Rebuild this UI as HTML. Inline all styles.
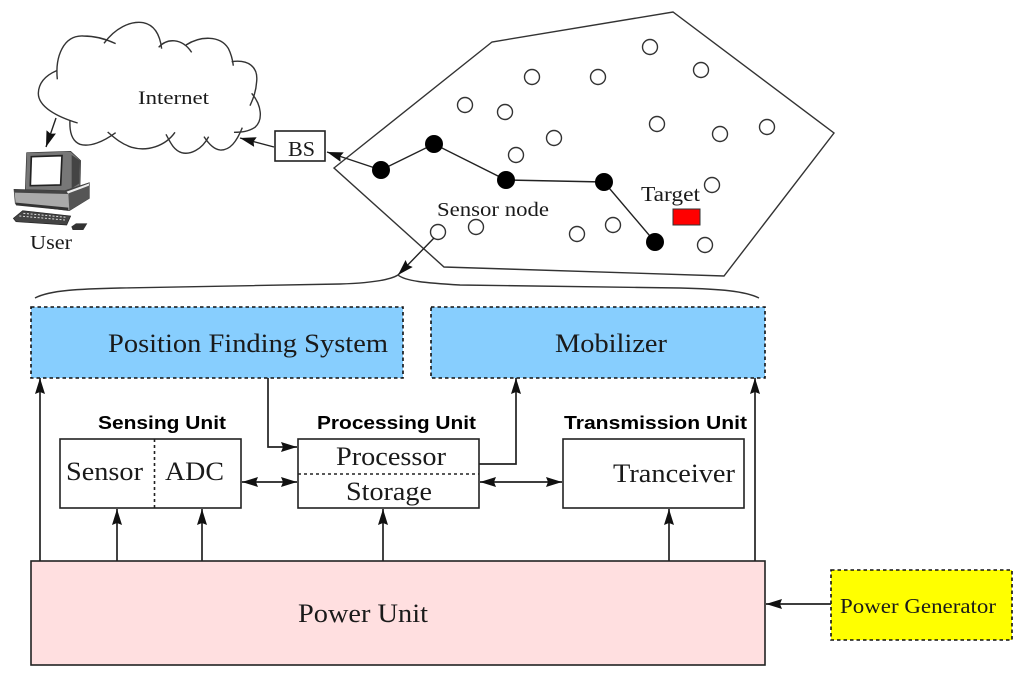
<!DOCTYPE html>
<html><head><meta charset="utf-8"><style>
html,body{margin:0;padding:0;background:#fff}
svg{display:block;filter:blur(0.35px)}
text{font-family:"Liberation Serif",serif;fill:#1a1a1a}
.b{font-family:"Liberation Sans",sans-serif;font-weight:bold;fill:#000}
</style></head><body>
<svg width="1024" height="678" viewBox="0 0 1024 678" xmlns="http://www.w3.org/2000/svg">
<defs>
<marker id="a" markerUnits="userSpaceOnUse" markerWidth="18" markerHeight="12" refX="16" refY="5" orient="auto"><path d="M0 0L16 5L0 10L2 5Z" fill="#111"/></marker>
<marker id="s" markerUnits="userSpaceOnUse" markerWidth="18" markerHeight="12" refX="0" refY="5" orient="auto"><path d="M16 0L0 5L16 10L14 5Z" fill="#111"/></marker>
</defs>
<rect width="1024" height="678" fill="#fff"/>

<!-- cloud -->
<g transform="scale(0.3333)" fill="none" stroke="#333" stroke-width="4.2">
<path d="M172 238C165 170 190 105 250 108C285 108 320 118 347 131"/>
<path d="M312 130C345 85 390 62 430 68C465 75 480 105 485 146"/>
<path d="M476 142C500 115 545 112 575 157"/>
<path d="M558 135C600 108 660 105 685 145C695 165 698 180 700 197"/>
<path d="M695 185C745 178 775 200 770 245C768 275 760 295 750 317"/>
<path d="M755 280C785 315 790 360 765 382C745 395 725 397 702 397"/>
<path d="M727 383C710 425 690 452 660 450C640 448 625 430 612 410"/>
<path d="M626 410C605 450 570 465 545 458C520 450 510 425 498 403"/>
<path d="M525 397C495 440 440 455 395 442C365 432 345 415 323 396"/>
<path d="M347 398C310 425 270 442 240 433C215 423 208 395 210 360"/>
<path d="M233 369C170 350 115 320 115 280C116 245 140 225 170 212"/>
</g>
<text x="138" y="104" font-size="19" textLength="71" lengthAdjust="spacingAndGlyphs">Internet</text>

<!-- computer -->
<g transform="translate(0,140) scale(0.3333)">
<path d="M80 38L212 34L242 62L240 140L205 160L76 150Z" fill="#777" stroke="#333" stroke-width="2"/>
<path d="M215 45L240 62L238 130L215 145Z" fill="#444"/>
<path d="M94 50L186 47L182 135L91 137Z" fill="#fff" stroke="#222" stroke-width="5"/>
<path d="M42 148L195 152L268 128L268 175L208 212L46 192Z" fill="#aaa" stroke="#333" stroke-width="2"/>
<path d="M42 148L195 152L268 128L265 135L205 162L45 158Z" fill="#444"/>
<path d="M200 155L268 130L266 137L205 162Z" fill="#eee"/>
<path d="M205 160L268 137L268 175L208 212Z" fill="#555"/>
<path d="M48 188L205 203V212L48 196Z" fill="#333"/>
<path d="M40 235L68 212L212 228L200 255L48 245Z" fill="#444" stroke="#222" stroke-width="2"/>
<path d="M58 228L195 240M70 220L200 232" stroke="#ddd" stroke-width="3" stroke-dasharray="6 5" fill="none"/>
<path d="M214 260L228 250L262 250L250 270L218 270Z" fill="#333"/>
</g>
<text x="30" y="249" font-size="20" textLength="42" lengthAdjust="spacingAndGlyphs">User</text>

<!-- internet connectors -->
<line x1="56" y1="118" x2="46" y2="147" stroke="#222" stroke-width="1.4" marker-end="url(#a)"/>
<line x1="274" y1="147" x2="240" y2="138" stroke="#222" stroke-width="1.4" marker-end="url(#a)"/>
<rect x="275" y="131" width="50" height="30" fill="#fff" stroke="#222" stroke-width="1.6"/>
<text x="288" y="156" font-size="21" textLength="27" lengthAdjust="spacingAndGlyphs">BS</text>

<!-- field -->
<path d="M334 168L492 42L673 12L834 133L724 276L444 267Z" fill="#fff" stroke="#333" stroke-width="1.4"/>
<g fill="#fff" stroke="#333" stroke-width="1.4">
<circle cx="650" cy="47" r="7.5"/><circle cx="701" cy="70" r="7.5"/><circle cx="532" cy="77" r="7.5"/><circle cx="598" cy="77" r="7.5"/>
<circle cx="465" cy="105" r="7.5"/><circle cx="505" cy="112" r="7.5"/><circle cx="657" cy="124" r="7.5"/><circle cx="720" cy="134" r="7.5"/>
<circle cx="767" cy="127" r="7.5"/><circle cx="554" cy="138" r="7.5"/><circle cx="516" cy="155" r="7.5"/><circle cx="712" cy="185" r="7.5"/>
<circle cx="613" cy="225" r="7.5"/><circle cx="577" cy="234" r="7.5"/><circle cx="705" cy="245" r="7.5"/><circle cx="476" cy="227" r="7.5"/><circle cx="438" cy="232" r="7.5"/>
</g>
<path d="M381 170L434 144L506 180L604 182L655 242" fill="none" stroke="#222" stroke-width="1.4"/>
<line x1="381" y1="170" x2="327" y2="152" stroke="#222" stroke-width="1.4" marker-end="url(#a)"/>
<g fill="#000"><circle cx="381" cy="170" r="9"/><circle cx="434" cy="144" r="9"/><circle cx="506" cy="180" r="9"/><circle cx="604" cy="182" r="9"/><circle cx="655" cy="242" r="9"/></g>
<rect x="673" y="209" width="27" height="16" fill="#f00" stroke="#333" stroke-width="1"/>
<text x="641" y="201" font-size="21" textLength="59" lengthAdjust="spacingAndGlyphs">Target</text>
<text x="437" y="216" font-size="20" textLength="112" lengthAdjust="spacingAndGlyphs">Sensor node</text>
<line x1="434" y1="238" x2="398" y2="275" stroke="#222" stroke-width="1.4" marker-end="url(#a)"/>
<path d="M35 298C50 290 80 289 120 288L340 284C370 283 390 280 398 275C405 281 425 283 460 285L680 288C720 289 745 291 759 298" fill="none" stroke="#333" stroke-width="1.4"/>

<!-- blue boxes -->
<rect x="31" y="307" width="372" height="71" fill="#87cefe" stroke="#111" stroke-width="1.6" stroke-dasharray="3.5 3"/>
<rect x="431" y="307" width="334" height="71" fill="#87cefe" stroke="#111" stroke-width="1.6" stroke-dasharray="3.5 3"/>
<text x="108" y="352" font-size="26" textLength="280" lengthAdjust="spacingAndGlyphs">Position Finding System</text>
<text x="555" y="352" font-size="26" textLength="112" lengthAdjust="spacingAndGlyphs">Mobilizer</text>

<!-- titles -->
<text class="b" x="98" y="429" font-size="18.500" textLength="128" lengthAdjust="spacingAndGlyphs">Sensing Unit</text>
<text class="b" x="317" y="429" font-size="18.500" textLength="159" lengthAdjust="spacingAndGlyphs">Processing Unit</text>
<text class="b" x="564" y="429" font-size="18.500" textLength="183" lengthAdjust="spacingAndGlyphs">Transmission Unit</text>

<!-- unit boxes -->
<rect x="60" y="439" width="181" height="69" fill="#fff" stroke="#222" stroke-width="1.6"/>
<line x1="154.500" y1="439" x2="154.500" y2="508" stroke="#222" stroke-width="1.6" stroke-dasharray="3 3"/>
<rect x="298" y="439" width="181" height="69" fill="#fff" stroke="#222" stroke-width="1.6"/>
<line x1="298" y1="474" x2="479" y2="474" stroke="#222" stroke-width="1.6" stroke-dasharray="3 3"/>
<rect x="563" y="439" width="181" height="69" fill="#fff" stroke="#222" stroke-width="1.6"/>
<text x="66" y="480" font-size="26" textLength="77" lengthAdjust="spacingAndGlyphs">Sensor</text>
<text x="165" y="480" font-size="26" textLength="59" lengthAdjust="spacingAndGlyphs">ADC</text>
<text x="336" y="465" font-size="26" textLength="110" lengthAdjust="spacingAndGlyphs">Processor</text>
<text x="346" y="500" font-size="26" textLength="86" lengthAdjust="spacingAndGlyphs">Storage</text>
<text x="613" y="482" font-size="26" textLength="122" lengthAdjust="spacingAndGlyphs">Tranceiver</text>

<!-- power -->
<rect x="31" y="561" width="734" height="104" fill="#ffdfe0" stroke="#222" stroke-width="1.6"/>
<text x="298" y="622" font-size="26" textLength="130" lengthAdjust="spacingAndGlyphs">Power Unit</text>
<rect x="831" y="570" width="181" height="70" fill="#ff0" stroke="#111" stroke-width="1.6" stroke-dasharray="3.5 3"/>
<text x="840" y="613" font-size="21" textLength="156" lengthAdjust="spacingAndGlyphs">Power Generator</text>

<!-- arrows -->
<g fill="none" stroke="#222" stroke-width="1.7">
<line x1="40" y1="561" x2="40" y2="378" marker-end="url(#a)"/>
<line x1="755" y1="561" x2="755" y2="378" marker-end="url(#a)"/>
<line x1="117" y1="561" x2="117" y2="509" marker-end="url(#a)"/>
<line x1="202" y1="561" x2="202" y2="509" marker-end="url(#a)"/>
<line x1="383" y1="561" x2="383" y2="509" marker-end="url(#a)"/>
<line x1="669" y1="561" x2="669" y2="509" marker-end="url(#a)"/>
<path d="M268 378V447H297" marker-end="url(#a)"/>
<path d="M479 464H516V378" marker-end="url(#a)"/>
<line x1="242" y1="482" x2="297" y2="482" marker-start="url(#s)" marker-end="url(#a)"/>
<line x1="480" y1="482" x2="562" y2="482" marker-start="url(#s)" marker-end="url(#a)"/>
<line x1="831" y1="604" x2="766" y2="604" marker-end="url(#a)"/>
</g>
</svg>
</body></html>
